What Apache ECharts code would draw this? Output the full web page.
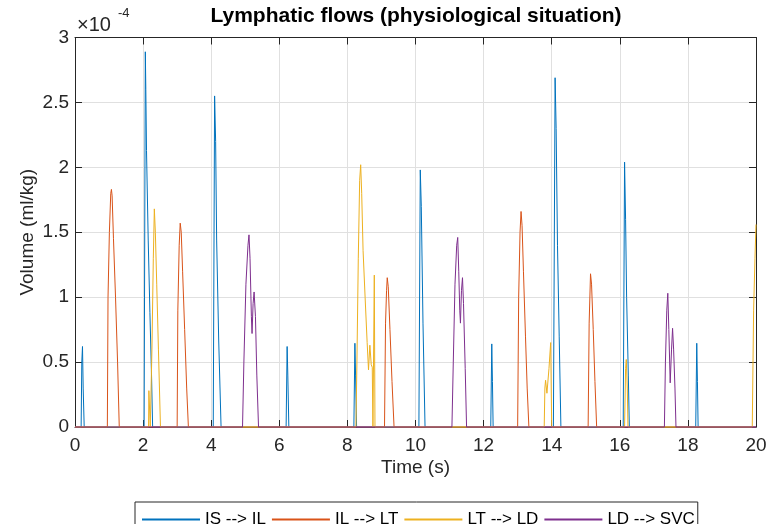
<!DOCTYPE html>
<html>
<head>
<meta charset="utf-8">
<script src="https://cdn.jsdelivr.net/npm/echarts@6/dist/echarts.min.js"></script>
<style>
  html, body { margin: 0; padding: 0; background: #ffffff; }
  #chart { width: 771px; height: 524px; }
</style>
</head>
<body>
<div id="chart"></div>
<script>
// Lymph volumes per compartment transfer, in units of 1e-4 ml/kg, as [time (s), volume] pairs.
const seriesNames = ['IS --> IL', 'IL --> LT', 'LT --> LD', 'LD --> SVC'];

const isIlFlow = [
  [0, 0], [0.18, 0], [0.2, 0.5], [0.22, 0.62], [0.24, 0.3], [0.27, 0],
  [2.03, 0], [2.065, 2.89], [2.08, 2.6], [2.1, 2.13], [2.15, 1.44], [2.2, 0.88], [2.25, 0.37], [2.28, 0],
  [4.06, 0], [4.1, 2.55], [4.13, 2.2], [4.16, 1.44], [4.22, 0.67], [4.29, 0],
  [6.2, 0], [6.23, 0.62], [6.25, 0.4], [6.28, 0],
  [8.19, 0], [8.22, 0.645], [8.24, 0.4], [8.27, 0],
  [10.1, 0], [10.14, 1.98], [10.17, 1.7], [10.22, 0.8], [10.28, 0],
  [12.21, 0], [12.24, 0.64], [12.26, 0.35], [12.28, 0],
  [14.05, 0], [14.1, 2.69], [14.13, 2.3], [14.17, 1.4], [14.22, 0.7], [14.27, 0],
  [16.1, 0], [16.14, 2.04], [16.17, 1.6], [16.2, 1.0], [16.25, 0.4], [16.28, 0],
  [18.23, 0], [18.26, 0.645], [18.28, 0.35], [18.3, 0],
  [20, 0]
];

const ilLtFlow = [
  [0, 0], [0.95, 0], [0.97, 1.0], [1.01, 1.5], [1.05, 1.8], [1.07, 1.83], [1.09, 1.78], [1.13, 1.45], [1.19, 1.0], [1.25, 0.5], [1.3, 0],
  [3.0, 0], [3.02, 0.9], [3.06, 1.4], [3.09, 1.57], [3.12, 1.5], [3.16, 1.2], [3.22, 0.75], [3.28, 0.3], [3.33, 0],
  [9.09, 0], [9.12, 0.8], [9.15, 1.05], [9.17, 1.15], [9.2, 1.08], [9.25, 0.75], [9.31, 0.35], [9.37, 0],
  [13.0, 0], [13.03, 1.0], [13.07, 1.5], [13.1, 1.66], [13.13, 1.55], [13.17, 1.2], [13.23, 0.7], [13.28, 0.3], [13.33, 0],
  [15.07, 0], [15.1, 0.8], [15.14, 1.18], [15.17, 1.1], [15.22, 0.75], [15.27, 0.35], [15.32, 0],
  [20, 0]
];

const ltLdFlow = [
  [0, 0], [2.16, 0], [2.17, 0.28], [2.2, 0.29], [2.21, 0], [2.23, 0], [2.26, 0.6], [2.3, 1.3], [2.33, 1.68], [2.36, 1.5], [2.4, 1.1], [2.45, 0.6], [2.51, 0],
  [8.25, 0], [8.28, 0.5], [8.32, 1.3], [8.36, 1.9], [8.39, 2.02], [8.42, 1.8], [8.46, 1.36], [8.52, 1.0], [8.58, 0.65], [8.62, 0.44],
  [8.66, 0.63], [8.7, 0.48], [8.73, 0.46], [8.75, 0], [8.78, 0], [8.79, 1.17], [8.81, 0],
  [13.78, 0], [13.8, 0.3], [13.82, 0.36], [13.86, 0.26], [13.92, 0.45], [13.97, 0.65], [14.0, 0],
  [16.14, 0], [16.17, 0.45], [16.19, 0.52], [16.22, 0.3], [16.24, 0],
  [19.89, 0], [19.93, 0.9], [19.97, 1.3], [20, 1.56]
];

const ldSvcFlow = [
  [0, 0], [4.92, 0], [4.96, 0.5], [5.02, 1.1], [5.08, 1.4], [5.11, 1.48], [5.14, 1.3], [5.18, 0.85], [5.2, 0.72], [5.23, 0.95], [5.26, 1.04], [5.3, 0.85], [5.34, 0.4], [5.39, 0],
  [11.07, 0], [11.11, 0.5], [11.16, 1.1], [11.21, 1.4], [11.24, 1.46], [11.27, 1.2], [11.3, 0.9], [11.32, 0.8], [11.35, 1.05], [11.38, 1.15], [11.41, 0.95], [11.46, 0.45], [11.5, 0],
  [17.31, 0], [17.34, 0.5], [17.38, 0.9], [17.41, 1.03], [17.44, 0.75], [17.48, 0.34], [17.52, 0.6], [17.55, 0.76], [17.58, 0.6], [17.62, 0.3], [17.65, 0],
  [20, 0]
];

const timeRange = [0, 20];
const timeStep = 2;
const volumeRange = [0, 3];
const volumeStep = 0.5;

const flows = [isIlFlow, ilLtFlow, ltLdFlow, ldSvcFlow];
const lineColors = ['#0072BD', '#D95319', '#EDB120', '#7E2F8E'];

const FONT = '"Liberation Sans", Arial, Helvetica, sans-serif';
const AXIS_COLOR = '#262626';

const chart = echarts.init(document.getElementById('chart'), null, { renderer: 'canvas' });

// Shared look of the framing axes (ticks point inward like a boxed plot)
function frameAxis(extra) {
  return Object.assign({
    type: 'value',
    axisLine: { show: true, onZero: false, lineStyle: { color: AXIS_COLOR, width: 1 } },
    axisTick: { show: true, inside: true, length: 7, lineStyle: { color: AXIS_COLOR, width: 1 } },
    axisLabel: { show: false },
    splitLine: { show: false }
  }, extra);
}

const option = {
  animation: false,
  backgroundColor: '#ffffff',
  grid: { left: 75, right: 15, top: 37.5, bottom: 97, containLabel: false },
  xAxis: [
    frameAxis({
      position: 'bottom',
      min: timeRange[0], max: timeRange[1], interval: timeStep,
      name: 'Time (s)', nameLocation: 'middle', nameGap: 31, nameMoveOverlap: false,
      nameTextStyle: { fontFamily: FONT, fontSize: 19, color: AXIS_COLOR },
      axisLabel: { show: true, margin: 9, fontFamily: FONT, fontSize: 19, color: AXIS_COLOR },
      splitLine: { show: true, lineStyle: { color: '#e0e0e0', width: 1 } }
    }),
    frameAxis({ position: 'top', min: timeRange[0], max: timeRange[1], interval: timeStep })
  ],
  yAxis: [
    frameAxis({
      position: 'left',
      min: volumeRange[0], max: volumeRange[1], interval: volumeStep,
      name: 'Volume (ml/kg)', nameLocation: 'middle', nameGap: 38, nameRotate: 90, nameMoveOverlap: false,
      nameTextStyle: { fontFamily: FONT, fontSize: 19, color: AXIS_COLOR },
      axisLabel: { show: true, margin: 6, fontFamily: FONT, fontSize: 19, color: AXIS_COLOR },
      splitLine: { show: true, lineStyle: { color: '#e0e0e0', width: 1 } }
    }),
    frameAxis({ position: 'right', min: volumeRange[0], max: volumeRange[1], interval: volumeStep })
  ],
  legend: {
    data: seriesNames,
    left: 135, top: 502,
    orient: 'horizontal',
    padding: [9, 3, 20, 6],
    itemGap: 5,
    itemWidth: 58, itemHeight: 14,
    itemStyle: { opacity: 0 },
    borderColor: AXIS_COLOR, borderWidth: 1, borderRadius: 0,
    backgroundColor: '#ffffff',
    textStyle: { fontFamily: FONT, fontSize: 17, color: '#000000', padding: [0, 0, 0, 0] }
  },
  graphic: [
    {
      type: 'text', x: 416, y: 16, z: 10,
      style: {
        text: 'Lymphatic flows (physiological situation)',
        font: 'bold 21px ' + FONT, fill: '#000000',
        align: 'center', verticalAlign: 'middle'
      }
    },
    {
      type: 'text', x: 77, y: 25, z: 10,
      style: { text: '\u00d710', font: '20px ' + FONT, fill: AXIS_COLOR, align: 'left', verticalAlign: 'middle' }
    },
    {
      type: 'text', x: 118, y: 13, z: 10,
      style: { text: '-4', font: '13px ' + FONT, fill: AXIS_COLOR, align: 'left', verticalAlign: 'middle' }
    }
  ],
  series: flows.map((flow, i) => ({
    name: seriesNames[i],
    type: 'line',
    xAxisIndex: 0,
    yAxisIndex: 0,
    data: flow,
    symbol: 'none',
    showSymbol: false,
    clip: false,
    color: lineColors[i],
    lineStyle: { color: lineColors[i], width: 1 },
    emphasis: { disabled: true },
    z: 2 + i
  }))
};

chart.setOption(option);
</script>
</body>
</html>
